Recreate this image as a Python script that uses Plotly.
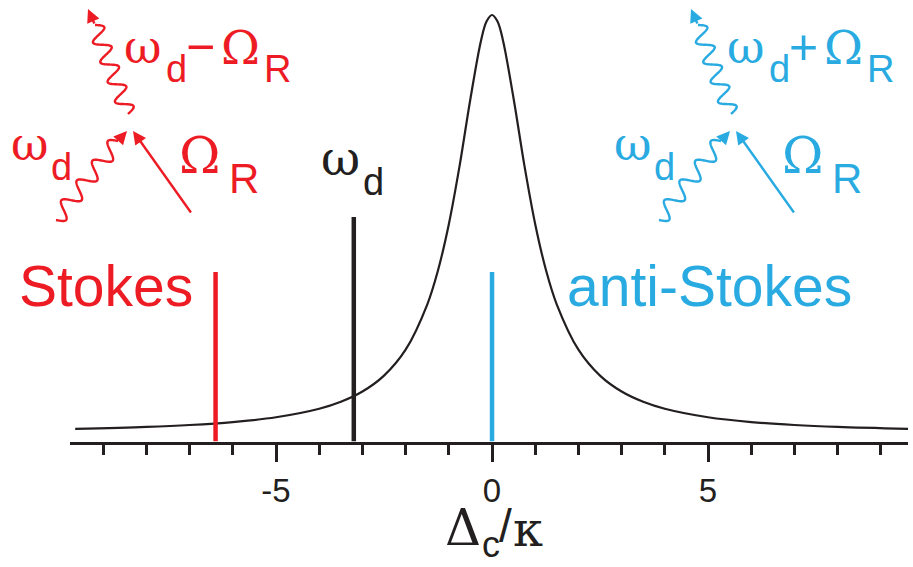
import numpy as np
import plotly.graph_objects as go

W, H = 913, 567

RED = "#ED1C24"
BLUE = "#29ABE2"
INK = "#231F20"
SANS = "Liberation Sans, Arial, sans-serif"
GREEK = "DejaVu Serif, serif"

# Cavity transmission vs. detuning (in units of kappa)
detuning = [-9.65, -8.0, -7.0, -6.0, -5.0, -4.0, -3.5, -3.0, -2.5, -2.0, -1.5,
            -1.25, -1.0, -0.75, -0.5, -0.25, -0.125, 0.0, 0.125, 0.25, 0.5,
            0.75, 1.0, 1.25, 1.5, 2.0, 2.5, 3.0, 3.5, 4.0, 5.0, 6.0, 7.0,
            8.0, 9.63]
transmission = [0.0106, 0.0154, 0.0200, 0.0270, 0.0385, 0.0588, 0.0755,
                0.100, 0.138, 0.200, 0.308, 0.390, 0.500, 0.640, 0.800,
                0.941, 0.985, 1.000, 0.985, 0.941, 0.800, 0.640, 0.500,
                0.390, 0.308, 0.200, 0.138, 0.100, 0.0755, 0.0588, 0.0385,
                0.0270, 0.0200, 0.0154, 0.0107]

# Drive and sideband frequencies
line_names = ["Stokes", "drive", "anti-Stokes"]
line_pos = [-6.4, -3.2, 0.0]
line_height = [0.386, 0.517, 0.386]
line_colors = [RED, INK, BLUE]

x_tickvals = [-5, 0, 5]
x_ticktext = ["-5", "0", "5"]

X_RANGE = [-9.77, 9.63]
Y_RANGE = [-0.0194, 1.0359]


def P(px, py):
    """Pixel position -> paper coordinates."""
    return px / W, 1 - py / H


fig = go.Figure()

fig.add_trace(go.Scatter(
    x=detuning, y=transmission, mode="lines", line_shape="spline",
    line=dict(color=INK, width=2.2), hoverinfo="skip", showlegend=False))

for name, xp, h, c in zip(line_names, line_pos, line_height, line_colors):
    fig.add_trace(go.Scatter(
        x=[xp, xp], y=[Y_RANGE[0], h], mode="lines", name=name,
        line=dict(color=c, width=4.5), showlegend=False))

annotations = []


def text(s, px, py, size, color, family):
    x, y = P(px, py)
    annotations.append(dict(
        text=s, x=x, y=y, xref="paper", yref="paper", xanchor="left",
        yanchor="middle", showarrow=False, borderpad=0, borderwidth=0,
        font=dict(size=size, color=color, family=family)))


def arrow(tail, tip, color):
    x, y = P(*tip)
    annotations.append(dict(
        text="", x=x, y=y, xref="paper", yref="paper", showarrow=True,
        ax=tail[0] - tip[0], ay=tail[1] - tip[1], axref="pixel", ayref="pixel",
        arrowhead=2, arrowsize=1.1, arrowwidth=2.4, arrowcolor=color,
        standoff=0, startstandoff=0))


shapes = []


def wave(start, end, periods, amp, color):
    """Wavy photon line drawn as an SVG path between two pixel points."""
    (x0, y0), (x1, y1) = start, end
    dx, dy = x1 - x0, y1 - y0
    L = np.hypot(dx, dy)
    ux, uy = dx / L, dy / L
    nx, ny = -uy, ux
    t = np.linspace(0, 1, 200)
    off = amp * np.sin(2 * np.pi * periods * t)
    xs = x0 + dx * t + nx * off
    ys = y0 + dy * t + ny * off
    pts = [P(a, b) for a, b in zip(xs, ys)]
    path = "M " + " L ".join(f"{a:.5f},{b:.5f}" for a, b in pts)
    shapes.append(dict(type="path", path=path, xref="paper", yref="paper",
                       line=dict(color=color, width=2.4)))


def process(dxo, color, sign):
    # outgoing photon
    wave((128 + dxo, 114), (95 + dxo, 25), 4.5, 8, color)
    arrow((95 + dxo, 25), (88 + dxo, 9), color)
    # incoming drive photon
    wave((56 + dxo, 220), (118 + dxo, 141), 4, 8, color)
    arrow((118 + dxo, 141), (127 + dxo, 131), color)
    # phonon
    arrow((192 + dxo, 214), (133 + dxo, 131), color)
    # labels
    text("\u03c9", 124 + dxo, 47, 46, color, GREEK)
    text("d", 166 + dxo, 69, 38, color, SANS)
    text(sign, 186 + dxo, 47, 50, color, SANS)
    text("\u03a9", 221 + dxo, 47, 47, color, GREEK)
    text("R", 264 + dxo, 69, 38, color, SANS)
    text("\u03c9", 11 + dxo, 144, 46, color, GREEK)
    text("d", 51 + dxo, 167, 38, color, SANS)
    text("\u03a9", 179 + dxo, 156, 50, color, GREEK)
    text("R", 229 + dxo, 178, 42, color, SANS)


process(0, RED, "\u2212")
process(603, BLUE, "+")

# drive label
text("\u03c9", 321, 158, 48, INK, GREEK)
text("d", 363, 182, 38, INK, SANS)

# sideband names
text("Stokes", 19, 286, 57, RED, SANS)
text("anti-Stokes", 567, 286, 57, BLUE, SANS)

# axis title
text("\u0394", 445, 528, 50, INK, GREEK)
text("c", 482, 544, 36, INK, SANS)
text("/", 499, 526, 46, INK, SANS)
text("\u03ba", 513, 529, 48, INK, GREEK)

fig.update_layout(
    width=W, height=H, margin=dict(l=0, r=0, t=0, b=0),
    paper_bgcolor="white", plot_bgcolor="white",
    annotations=annotations, shapes=shapes,
    xaxis=dict(
        domain=[70 / W, 908 / W], range=X_RANGE, showgrid=False,
        zeroline=False, showline=True, linecolor=INK, linewidth=2.5,
        ticks="outside", ticklen=18, tickwidth=2.5, tickcolor=INK,
        tickvals=x_tickvals, ticktext=x_ticktext,
        tickfont=dict(size=33, color=INK, family=SANS),
        minor=dict(dtick=1, tick0=0, ticks="outside", ticklen=11,
                   tickwidth=2.5, tickcolor=INK, showgrid=False)),
    yaxis=dict(domain=[(H - 441.5) / H, 1], range=Y_RANGE, visible=False),
)

fig.write_html("out.html")
